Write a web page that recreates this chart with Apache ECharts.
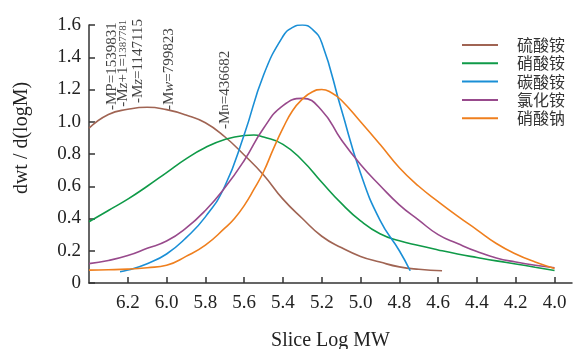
<!DOCTYPE html>
<html>
<head>
<meta charset="utf-8">
<script src="https://cdn.jsdelivr.net/npm/echarts@6/dist/echarts.min.js"></script>
<style>
  html, body { margin: 0; padding: 0; background: #fff; }
  #chart { width: 573px; height: 349px; }
</style>
</head>
<body>
<div id="chart"></div>
<script>
const seriesNames = ['硫酸铵', '硝酸铵', '碳酸铵', '氯化铵', '硝酸钠'];
const seriesColors = ['#a06453', '#0f9a48', '#1a8fd6', '#984a8c', '#ef7f1e'];

const xTicks = [6.2, 6.0, 5.8, 5.6, 5.4, 5.2, 5.0, 4.8, 4.6, 4.4, 4.2, 4.0];

// 硫酸铵
const sulfateX = [6.4, 6.3, 6.2, 6.1, 6.0, 5.9, 5.8, 5.7, 5.6, 5.5, 5.4, 5.3, 5.2, 5.1, 5.0, 4.9, 4.8, 4.7, 4.58];
const sulfateY = [0.96, 1.045, 1.077, 1.09, 1.075, 1.042, 0.994, 0.907, 0.794, 0.67, 0.52, 0.40, 0.29, 0.22, 0.165, 0.13, 0.10, 0.085, 0.076];

// 硝酸铵
const nitrateX = [6.4, 6.3, 6.2, 6.1, 6.0, 5.9, 5.8, 5.7, 5.6, 5.55, 5.5, 5.4, 5.3, 5.2, 5.1, 5.0, 4.9, 4.8, 4.7, 4.6, 4.5, 4.4, 4.3, 4.2, 4.1, 4.0];
const nitrateY = [0.38, 0.45, 0.52, 0.60, 0.685, 0.77, 0.84, 0.89, 0.915, 0.918, 0.905, 0.86, 0.76, 0.625, 0.495, 0.385, 0.305, 0.262, 0.232, 0.205, 0.18, 0.158, 0.137, 0.118, 0.098, 0.077];

// 碳酸铵
const carbonateX = [6.24, 6.2, 6.1, 6.0, 5.9, 5.8, 5.7, 5.6, 5.5, 5.4, 5.35, 5.3, 5.25, 5.2, 5.1, 5.0, 4.9, 4.8, 4.744];
const carbonateY = [0.07, 0.08, 0.12, 0.18, 0.28, 0.41, 0.60, 0.92, 1.29, 1.53, 1.585, 1.60, 1.575, 1.49, 1.08, 0.68, 0.39, 0.20, 0.076];

// 氯化铵
const chlorideX = [6.4, 6.3, 6.2, 6.1, 6.0, 5.9, 5.8, 5.7, 5.6, 5.5, 5.4, 5.3, 5.2, 5.1, 5.0, 4.9, 4.8, 4.7, 4.6, 4.5, 4.4, 4.3, 4.2, 4.1, 4.0];
const chlorideY = [0.12, 0.14, 0.17, 0.215, 0.26, 0.34, 0.45, 0.59, 0.76, 0.96, 1.10, 1.145, 1.07, 0.89, 0.735, 0.605, 0.485, 0.39, 0.30, 0.245, 0.195, 0.155, 0.13, 0.11, 0.095];

// 硝酸钠
const sodiumX = [6.4, 6.3, 6.2, 6.1, 6.0, 5.9, 5.8, 5.7, 5.65, 5.6, 5.55, 5.5, 5.45, 5.4, 5.35, 5.3, 5.25, 5.2, 5.15, 5.1, 5.0, 4.9, 4.8, 4.7, 4.6, 4.5, 4.4, 4.3, 4.2, 4.1, 4.0];
const sodiumY = [0.08, 0.082, 0.086, 0.095, 0.11, 0.165, 0.235, 0.34, 0.40, 0.48, 0.58, 0.69, 0.83, 0.96, 1.07, 1.14, 1.185, 1.20, 1.18, 1.135, 1.00, 0.86, 0.715, 0.60, 0.505, 0.415, 0.33, 0.245, 0.18, 0.13, 0.09];

// molecular weight markers along the 硫酸铵 curve
const markerX = [6.28, 6.226, 6.148, 5.985, 5.70];
const markerY = [1.073, 1.093, 1.116, 1.073, 0.955];
const markerText = [
  '{a|-MP=1539831}',
  '{a|-M}{i|z}{a|+1=}{s|1387781}',
  '{a|-M}{i|z}{a|=1147115}',
  '{a|-M}{i|w}{a|=799823}',
  '{a|-M}{n|n}{a|=436682}'
];

const serif = "'Liberation Serif', 'DejaVu Serif', serif";
const zip = (xs, ys) => xs.map((x, i) => [x, ys[i]]);

const chart = echarts.init(document.getElementById('chart'));

const curves = [
  [sulfateX, sulfateY],
  [nitrateX, nitrateY],
  [carbonateX, carbonateY],
  [chlorideX, chlorideY],
  [sodiumX, sodiumY]
].map(([xs, ys], i) => ({
  name: seriesNames[i],
  type: 'line',
  smooth: 0.5,
  symbol: 'none',
  lineStyle: { color: seriesColors[i], width: 1.6 },
  itemStyle: { color: seriesColors[i] },
  data: zip(xs, ys),
  z: 2
}));

const markers = {
  type: 'scatter',
  symbolSize: 0,
  silent: true,
  data: zip(markerX, markerY).map((p, i) => ({
    value: p,
    label: { formatter: markerText[i] }
  })),
  label: {
    show: true,
    position: [0, 0],
    rotate: 90,
    align: 'left',
    verticalAlign: 'middle',
    rich: {
      a: { fontFamily: serif, fontSize: 15, color: '#111' },
      i: { fontFamily: serif, fontSize: 15, fontStyle: 'italic', color: '#111' },
      n: { fontFamily: serif, fontSize: 13, color: '#111' },
      s: { fontFamily: serif, fontSize: 11, color: '#111' }
    }
  },
  z: 3
};

const option = {
  animation: false,
  backgroundColor: '#fff',
  grid: { left: 89, right: 1, top: 25, bottom: 66, outerBoundsMode: 'none' },
  legend: {
    data: seriesNames,
    orient: 'vertical',
    left: 457,
    top: 32,
    icon: 'rect',
    itemWidth: 36,
    itemHeight: 2,
    itemGap: 2.3,
    textStyle: {
      fontFamily: "'Noto Sans CJK SC', sans-serif",
      fontSize: 16,
      lineHeight: 16,
      color: '#333',
      padding: [0, 0, 0, 14]
    }
  },
  xAxis: {
    type: 'value',
    inverse: true,
    min: 3.91,
    max: 6.4,
    name: 'Slice Log MW',
    nameLocation: 'middle',
    nameGap: 48,
    nameTextStyle: { fontFamily: serif, fontSize: 20, color: '#222' },
    axisLine: { show: true, lineStyle: { color: '#333', width: 1.5 } },
    axisTick: { show: true, inside: true, length: 6, customValues: xTicks, lineStyle: { color: '#333', width: 1.5 } },
    axisLabel: {
      customValues: xTicks,
      formatter: v => v.toFixed(1),
      margin: 11,
      fontFamily: serif,
      fontSize: 19,
      color: '#222'
    },
    splitLine: { show: false }
  },
  yAxis: {
    type: 'value',
    min: 0,
    max: 1.6,
    interval: 0.2,
    name: 'dwt / d(logM)',
    nameLocation: 'middle',
    nameGap: 57,
    nameTextStyle: { fontFamily: serif, fontSize: 20, color: '#222', padding: [0, 0, 0, 32] },
    axisLine: { show: true, lineStyle: { color: '#333', width: 1.5 } },
    axisTick: { show: true, inside: true, length: 6, lineStyle: { color: '#333', width: 1.5 } },
    axisLabel: {
      formatter: v => (v === 0 ? '0' : v.toFixed(1)),
      margin: 8,
      fontFamily: serif,
      fontSize: 19,
      color: '#222'
    },
    splitLine: { show: false }
  },
  series: [...curves, markers]
};

chart.setOption(option);
</script>
</body>
</html>
